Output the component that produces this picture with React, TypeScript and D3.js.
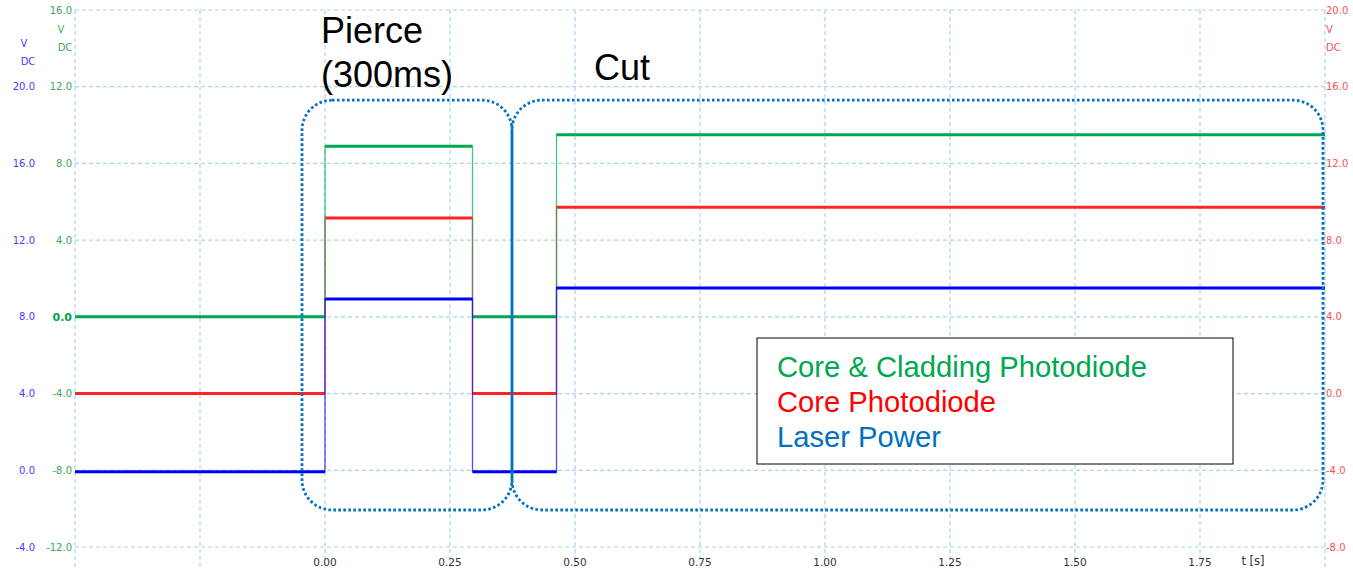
import React from "react";
import * as d3 from "d3";

// ---- data ----
const timeEdges = [-0.5, 0, 0.295, 0.463, 2.0]; // idle | pierce | idle | cut
const greenLevels = [0.0, 8.9, 0.0, 9.5]; // Core & Cladding Photodiode (green axis)
const redLevels = [0.0, 9.15, 0.0, 9.72]; // Core Photodiode (red axis)
const blueLevels = [-0.08, 8.93, -0.08, 9.5]; // Laser Power (blue axis)

const xTicks = [0, 0.25, 0.5, 0.75, 1.0, 1.25, 1.5, 1.75];
const xGrid = [-0.5, -0.25, 0, 0.25, 0.5, 0.75, 1.0, 1.25, 1.5, 1.75, 2.0];
const blueTicks = [20, 16, 12, 8, 4, 0, -4];
const greenTicks = [16, 12, 8, 4, 0, -4, -8, -12];
const redTicks = [20, 16, 12, 8, 4, 0, -4, -8];
const legendNames = ["Core & Cladding Photodiode", "Core Photodiode", "Laser Power"];

// annotation boxes in data units (time, blue-axis volts)
const boxT = [
  [-0.046, 0.374],
  [0.374, 1.996],
];
const boxV = [19.3, -2.07];

const W = 1353;
const H = 570;
const L = 75;
const R = 1325;
const T = 10;
const B = 547;

const x = d3.scaleLinear().domain([-0.5, 2.0]).range([L, R]);
const yBlue = d3.scaleLinear().domain([-4, 24]).range([B, T]);
const yGreen = d3.scaleLinear().domain([-12, 16]).range([B, T]);
const yRed = d3.scaleLinear().domain([-8, 20]).range([B, T]);

const GREEN = "#00a650";
const RED = "#ff2424";
const BLUE = "#0000ff";
const GRID = "#a9d6e6";
const BOX = "#0070c0";

function stepPoints(levels: number[]) {
  const pts: [number, number][] = levels.map((v, i) => [timeEdges[i], v]);
  pts.push([timeEdges[timeEdges.length - 1], levels[levels.length - 1]]);
  return pts;
}

function Trace({ levels, y, color }: { levels: number[]; y: d3.ScaleLinear<number, number>; color: string }) {
  const line = d3
    .line<[number, number]>()
    .x((d) => x(d[0]))
    .y((d) => y(d[1]))
    .curve(d3.curveStepAfter);
  const d = line(stepPoints(levels)) || "";
  return (
    <g>
      <path d={d} fill="none" stroke={color} strokeWidth={1.3} opacity={0.7} />
      {levels.map((v, i) => (
        <line
          key={i}
          x1={x(timeEdges[i])}
          x2={x(timeEdges[i + 1])}
          y1={y(v)}
          y2={y(v)}
          stroke={color}
          strokeWidth={3}
        />
      ))}
    </g>
  );
}

export default function App() {
  const fTick = "'DejaVu Sans', Verdana, sans-serif";
  const fBig = "'Liberation Sans', Arial, sans-serif";
  return (
    <svg
      width={W}
      height={H}
      style={{ position: "absolute", left: 0, top: 0, background: "#fff" }}
      fontFamily={fTick}
    >
      <rect x={0} y={0} width={W} height={H} fill="#fff" />
      {/* grid */}
      {xGrid.map((t) => (
        <line key={"xg" + t} x1={x(t)} x2={x(t)} y1={T} y2={H} stroke={GRID} strokeWidth={1.2} strokeDasharray="4 3" />
      ))}
      {greenTicks.map((v) => (
        <line key={"yg" + v} x1={L} x2={R} y1={yGreen(v)} y2={yGreen(v)} stroke={GRID} strokeWidth={1.2} strokeDasharray="4 3" />
      ))}

      {/* left blue axis */}
      {blueTicks.map((v) => (
        <text key={"bt" + v} x={35} y={yBlue(v)} dy="0.35em" textAnchor="end" fontSize={10} fill="#4a3cff">
          {v.toFixed(1)}
        </text>
      ))}
      <text x={24} y={43} dy="0.35em" textAnchor="middle" fontSize={10} fill="#4a3cff">V</text>
      <text x={28} y={61} dy="0.35em" textAnchor="middle" fontSize={10} fill="#4a3cff">DC</text>

      {/* left green axis */}
      {greenTicks.map((v) => (
        <text
          key={"gt" + v}
          x={72}
          y={yGreen(v)}
          dy="0.35em"
          textAnchor="end"
          fontSize={v === 0 ? 11 : 10}
          fontWeight={v === 0 ? "bold" : "normal"}
          fill={v === 0 ? GREEN : "#3aa957"}
        >
          {v.toFixed(1)}
        </text>
      ))}
      <text x={61} y={29} dy="0.35em" textAnchor="middle" fontSize={10} fill="#3aa957">V</text>
      <text x={65} y={47} dy="0.35em" textAnchor="middle" fontSize={10} fill="#3aa957">DC</text>

      {/* right red axis */}
      {redTicks.map((v) => (
        <text key={"rt" + v} x={1326} y={yRed(v)} dy="0.35em" textAnchor="start" fontSize={10} fill="#ff5050">
          {v.toFixed(1)}
        </text>
      ))}
      <text x={1326} y={29} dy="0.35em" fontSize={10} fill="#ff5050">V</text>
      <text x={1326} y={47} dy="0.35em" fontSize={10} fill="#ff5050">DC</text>

      {/* x axis labels */}
      {xTicks.map((t) => (
        <text key={"xt" + t} x={x(t)} y={562} dy="0.35em" textAnchor="middle" fontSize={10.5} fill="#333">
          {t.toFixed(2)}
        </text>
      ))}
      <text x={1253} y={561} dy="0.35em" textAnchor="middle" fontSize={11.5} fill="#333">t [s]</text>

      {/* traces */}
      <Trace levels={redLevels} y={yRed} color={RED} />
      <Trace levels={greenLevels} y={yGreen} color={GREEN} />
      <Trace levels={blueLevels} y={yBlue} color={BLUE} />

      {/* annotation boxes */}
      {boxT.map((b, i) => (
        <rect
          key={"box" + i}
          x={x(b[0])}
          y={yBlue(boxV[0])}
          width={x(b[1]) - x(b[0])}
          height={yBlue(boxV[1]) - yBlue(boxV[0])}
          rx={30}
          ry={30}
          fill="none"
          stroke={BOX}
          strokeWidth={2.8}
          strokeDasharray="2.6 2.4"
        />
      ))}

      {/* annotation texts */}
      <text x={321} y={43} fontSize={36} fill="#000" fontFamily={fBig}>Pierce</text>
      <text x={321} y={87} fontSize={36} fill="#000" fontFamily={fBig}>(300ms)</text>
      <text x={594} y={80} fontSize={36} fill="#000" fontFamily={fBig}>Cut</text>

      {/* legend */}
      <rect x={757} y={338} width={476} height={126} fill="#fff" stroke="#000" strokeWidth={1} />
      {legendNames.map((n, i) => (
        <text
          key={n}
          x={777}
          y={377 + i * 35}
          fontSize={29.2}
          fill={[GREEN, "#ff0000", BOX][i]}
          fontFamily={fBig}
        >
          {n}
        </text>
      ))}
    </svg>
  );
}
